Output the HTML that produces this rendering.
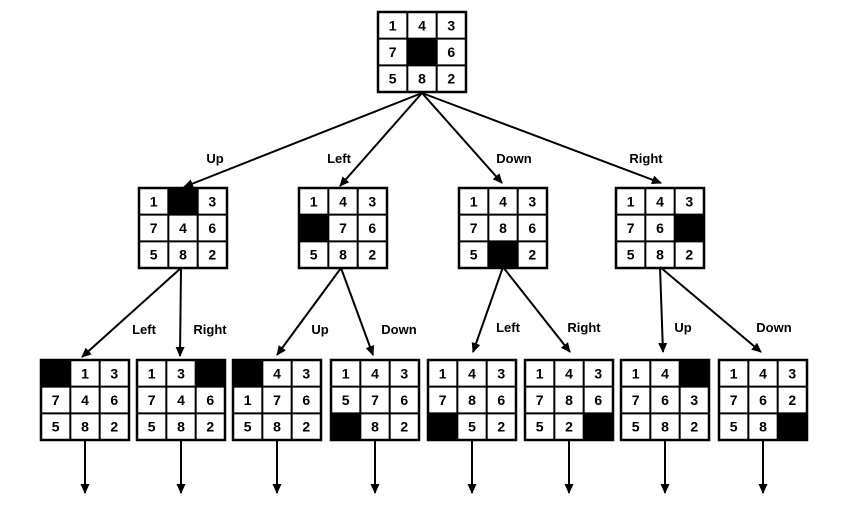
<!DOCTYPE html>
<html><head><meta charset="utf-8"><style>
html,body{margin:0;padding:0;background:#fff;}
svg{display:block;}
text{font-family:"Liberation Sans",Arial,sans-serif;font-weight:bold;}
</style></head><body>
<svg id="s" width="841" height="506" viewBox="0 0 841 506" xmlns="http://www.w3.org/2000/svg">
<defs>
<marker id="a" markerWidth="10" markerHeight="10" refX="9" refY="5" orient="auto" markerUnits="userSpaceOnUse">
<path d="M0,0.5 L10,5 L0,9.5 Z" fill="#000"/>
</marker>
</defs>
<g id="g"></g>
</svg>
<script>
var g=document.getElementById('g');var ns='http://www.w3.org/2000/svg';
function el(t,a,txt){var e=document.createElementNS(ns,t);for(var k in a)e.setAttribute(k,a[k]);if(txt!==undefined)e.textContent=txt;g.appendChild(e);return e;}
function grid(x,y,v){var w=88,h=80,cw=w/3,ch=h/3;
for(var i=0;i<9;i++){var c=i%3,r=Math.floor(i/3);var cx=x+c*cw,cy=y+r*ch;
if(v[i]==0)el('rect',{x:cx,y:cy,width:cw,height:ch,fill:'#000'});
else el('text',{x:cx+cw/2,y:cy+ch/2+5,'text-anchor':'middle','font-size':'14'},v[i]);}
el('rect',{x:x,y:y,width:w,height:h,fill:'none',stroke:'#000','stroke-width':2.5});
for(var k=1;k<3;k++){el('line',{x1:x+k*cw,y1:y,x2:x+k*cw,y2:y+h,stroke:'#000','stroke-width':2});
el('line',{x1:x,y1:y+k*ch,x2:x+w,y2:y+k*ch,stroke:'#000','stroke-width':2});}}
function ar(x1,y1,x2,y2){el('line',{x1:x1,y1:y1,x2:x2,y2:y2,stroke:'#000','stroke-width':2,'marker-end':'url(#a)'});}
function lb(x,y,t){el('text',{x:x,y:y,'font-size':'13','text-anchor':'middle'},t);}
grid(378,12,[1,4,3,7,0,6,5,8,2]);
var L2=[[139,[1,0,3,7,4,6,5,8,2]],[299,[1,4,3,0,7,6,5,8,2]],[459,[1,4,3,7,8,6,5,0,2]],[616,[1,4,3,7,6,0,5,8,2]]];
L2.forEach(function(a){grid(a[0],188,a[1]);});
var L3=[[41,[0,1,3,7,4,6,5,8,2]],[137,[1,3,0,7,4,6,5,8,2]],[233,[0,4,3,1,7,6,5,8,2]],[331,[1,4,3,5,7,6,0,8,2]],
[428,[1,4,3,7,8,6,0,5,2]],[525,[1,4,3,7,8,6,5,2,0]],[621,[1,4,0,7,6,3,5,8,2]],[719,[1,4,3,7,6,2,5,8,0]]];
L3.forEach(function(a){grid(a[0],360,a[1]);ar(a[0]+44,441,a[0]+44,493);});
ar(422,93,184,187);ar(422,93,340,186);ar(422,93,502,183);ar(422,93,661,183);
lb(215,163,'Up');lb(339,163,'Left');lb(514,163,'Down');lb(646,163,'Right');
ar(181,268,82,357);ar(181,268,180,356);lb(144,334,'Left');lb(210,334,'Right');
ar(341,268,277,355);ar(341,268,373,355);lb(320,334,'Up');lb(399,334,'Down');
ar(503,267,473,352);ar(503,267,570,352);lb(508,332,'Left');lb(584,332,'Right');
ar(660,267,663,352);ar(660,267,761,352);lb(683,332,'Up');lb(774,332,'Down');
</script>
</body></html>
